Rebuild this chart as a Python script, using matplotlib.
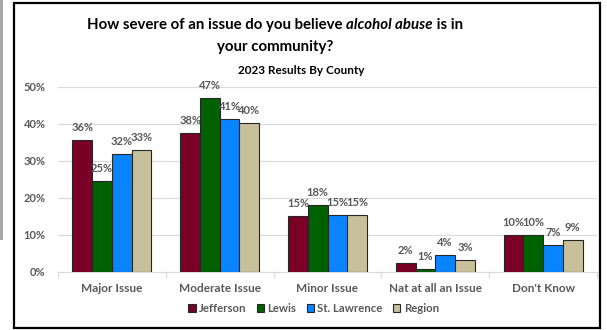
import numpy as np
import matplotlib.pyplot as plt
from matplotlib.patches import Rectangle

# values (percent)
categories = ["Major Issue", "Moderate Issue", "Minor Issue", "Nat at all an Issue", "Don't Know"]
counties = ["Jefferson", "Lewis", "St. Lawrence", "Region"]
jefferson = [35.6, 37.5, 15.0, 2.3, 9.9]
lewis = [24.6, 46.9, 18.0, 0.7, 9.9]
st_lawrence = [31.9, 41.3, 15.3, 4.4, 7.3]
region = [32.8, 40.1, 15.4, 3.1, 8.6]
yticks = [0, 10, 20, 30, 40, 50]

colors = ["#7a0026", "#006100", "#0a84ff", "#c8bf9b"]
gray = "#595959"
font = "Lato"

fig = plt.figure(figsize=(6.07, 3.30), dpi=100)
W, H = 607, 330

def px(x, y):
    return x / W, 1 - y / H

# outer frame + gray strip on the left
fig.patches.append(Rectangle(px(0, 240), 3 / W, 240 / H, transform=fig.transFigure,
                             facecolor="#a8a8a8", edgecolor="none"))
fig.patches.append(Rectangle(px(14, 328), 586 / W, 325 / H, transform=fig.transFigure,
                             facecolor="none", edgecolor="black", linewidth=1.6))

ax = fig.add_axes([58 / W, 1 - 271.7 / H, 539 / W, (271.7 - 86.7) / H])
ax.set_facecolor("none")

series = [jefferson, lewis, st_lawrence, region]
x = np.arange(len(categories))
bw = 0.183
for i, (name, vals) in enumerate(zip(counties, series)):
    pos = x + (i - 1.5) * bw
    bars = ax.bar(pos, vals, bw, color=colors[i], edgecolor="#262626",
                  linewidth=0.8, label=name, zorder=3)
    ax.bar_label(bars, labels=[f"{round(v):.0f}%" for v in vals], padding=5,
                 fontsize=8, color=gray, fontweight="bold", family=font)

ax.set_xlim(-0.5, len(categories) - 0.5)
ax.set_ylim(0, 50)
ax.set_yticks(yticks)
ax.set_yticklabels([f"{t}%" for t in yticks], fontsize=8, color=gray,
                   fontweight="bold", family=font)
ax.set_xticks(x)
ax.set_xticklabels(categories, fontsize=8.5, color=gray, fontweight="bold", family=font)
ax.tick_params(axis="y", length=0, pad=9)
ax.tick_params(axis="x", length=0, pad=8)
ax.grid(axis="y", color="#d9d9d9", linewidth=0.8, zorder=0)
for s in ["top", "right", "left"]:
    ax.spines[s].set_visible(False)
ax.spines["bottom"].set_color("#d9d9d9")
# small category separators
for b in np.arange(len(categories) + 1) - 0.5:
    ax.plot([b, b], [0, -1.3], color="#d9d9d9", linewidth=0.8, clip_on=False)

leg = ax.legend(loc="center", bbox_to_anchor=(0.5 - 14 / 539, -0.2), ncol=4,
                frameon=False, handlelength=0.65, handleheight=0.65, handletextpad=0.3,
                columnspacing=0.9, prop={"family": font, "weight": "bold", "size": 8.2})
for t in leg.get_texts():
    t.set_color(gray)

# title with italic part
fig.canvas.draw()
r = fig.canvas.get_renderer()
parts = [("How severe of an issue do you believe ", "normal"),
         ("alcohol abuse", "italic"),
         (" is in", "normal")]
texts = []
for s, st in parts:
    texts.append(fig.text(0, 1 - 25 / H, s, fontsize=10.8, fontweight="bold", style=st,
                          family=font, va="center", ha="left", color="black"))
widths = [t.get_window_extent(r).width for t in texts]
start = 275 - sum(widths) / 2
for t, w in zip(texts, widths):
    t.set_x(start / W)
    start += w
fig.text(275 / W, 1 - 47 / H, "your community?", fontsize=10.8, fontweight="bold",
         family=font, ha="center", va="center")
fig.text(301 / W, 1 - 70 / H, "2023 Results By County", fontsize=8.5, fontweight="bold",
         family=font, ha="center", va="center")

fig.savefig("out.png", dpi=100)
